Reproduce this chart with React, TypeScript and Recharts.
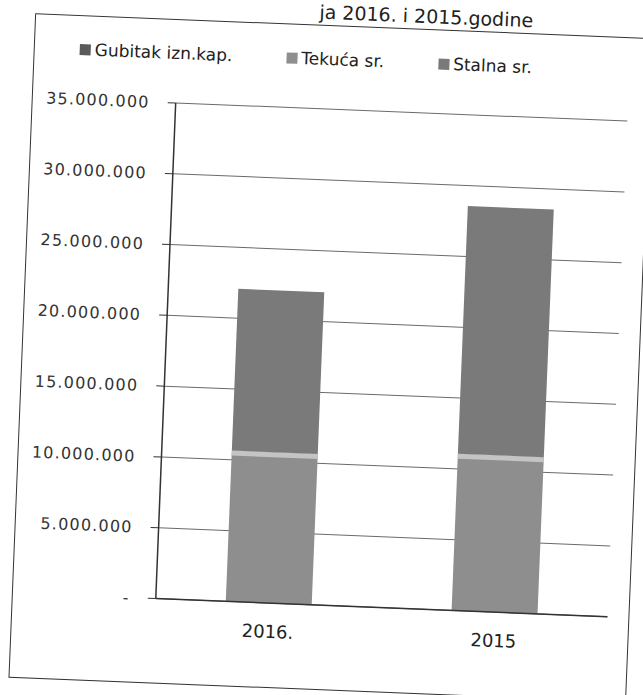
import { BarChart, Bar, XAxis, YAxis, CartesianGrid } from 'recharts';

const categories = ['2016.', '2015'];
const gubitak = [0, 0];
const tekuca = [10650000, 11070000];
const stalna = [11420000, 17490000];
const yTicks = [0, 5000000, 10000000, 15000000, 20000000, 25000000, 30000000, 35000000];
const seriesNames = ['Gubitak izn.kap.', 'Tekuća sr.', 'Stalna sr.'];
const seriesColors = ['#5a5a5a', '#8e8e8e', '#7a7a7a'];

const data = categories.map((name, i) => ({
  name,
  gubitak: gubitak[i],
  tekuca: tekuca[i],
  stalna: stalna[i],
}));

const font = '"DejaVu Sans", sans-serif';

function formatTick(v: number) {
  if (v === 0) return '-';
  return String(v).replace(/\B(?=(\d{3})+(?!\d))/g, '.');
}

function TekucaShape(props: any) {
  const { x, y, width, height, fill } = props;
  if (!height) return null;
  return (
    <g>
      <rect x={x} y={y} width={width} height={height} fill={fill} />
      <rect x={x} y={y} width={width} height={5} fill="#c4c4c4" />
    </g>
  );
}

export default function App() {
  return (
    <div style={{ position: 'fixed', left: 0, top: 0, width: 643, height: 695, background: '#fff', overflow: 'hidden' }}>
      <div
        style={{
          position: 'absolute',
          left: 0,
          top: 0,
          width: 643,
          height: 695,
          transform: 'rotate(2.3deg)',
          transformOrigin: '321px 347px',
          fontFamily: font,
          color: '#222',
        }}
      >
        <div style={{ position: 'absolute', left: 306, top: 2, fontSize: 19, lineHeight: '20px', whiteSpace: 'nowrap' }}>
          ja 2016. i 2015.godine
        </div>
        <div style={{ position: 'absolute', left: 22, top: 25, width: 616, height: 663, border: '1px solid #333' }} />
        <div style={{ position: 'absolute', left: 68, top: 49, display: 'flex', gap: 54, fontSize: 17, whiteSpace: 'nowrap' }}>
          {seriesNames.map((n, i) => (
            <div key={n} style={{ display: 'flex', alignItems: 'center', gap: 4 }}>
              <span style={{ width: 11, height: 11, background: seriesColors[i], display: 'inline-block' }} />
              <span>{n}</span>
            </div>
          ))}
        </div>
        <div style={{ position: 'absolute', left: 0, top: 0 }}>
          <BarChart
            width={643}
            height={695}
            data={data}
            margin={{ top: 109, right: 25, bottom: 50, left: 0 }}
            barCategoryGap="31%"
          >
            <CartesianGrid vertical={false} stroke="#6a6a6a" strokeWidth={1} />
            <XAxis
              dataKey="name"
              height={40}
              tickLine={false}
              axisLine={{ stroke: '#333', strokeWidth: 1.5 }}
              tick={{ fill: '#222', fontSize: 18, fontFamily: font }}
              tickMargin={16}
            />
            <YAxis
              width={166}
              domain={[0, 35000000]}
              ticks={yTicks}
              interval={0}
              tickFormatter={formatTick}
              tickSize={8}
              tickMargin={18}
              tickLine={{ stroke: '#333' }}
              axisLine={{ stroke: '#333', strokeWidth: 1.5 }}
              tick={{ fill: '#333', fontSize: 16, fontFamily: font, letterSpacing: 1.2 }}
            />
            <Bar dataKey="gubitak" stackId="a" fill={seriesColors[0]} isAnimationActive={false} />
            <Bar dataKey="tekuca" stackId="a" fill={seriesColors[1]} shape={TekucaShape} isAnimationActive={false} />
            <Bar dataKey="stalna" stackId="a" fill={seriesColors[2]} isAnimationActive={false} />
          </BarChart>
        </div>
      </div>
    </div>
  );
}
